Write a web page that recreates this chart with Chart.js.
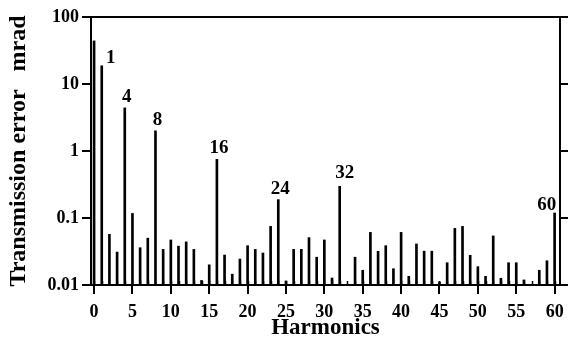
<!DOCTYPE html>
<html>
<head>
<meta charset="utf-8">
<script src="https://cdn.jsdelivr.net/npm/chart.js@4/dist/chart.umd.min.js"></script>
<style>
  html, body { margin: 0; padding: 0; background: #fff; }
  #wrap { width: 568px; height: 342px; }
</style>
</head>
<body>
<div id="wrap"><canvas id="harm_chart" width="568" height="342"></canvas></div>
<script>
// harmonic order on the x axis
const harmonics = [0, 1, 2, 3, 4, 5, 6, 7, 8, 9, 10, 11, 12, 13, 14, 15, 16, 17, 18, 19, 20,
  21, 22, 23, 24, 25, 26, 27, 28, 29, 30, 31, 32, 33, 34, 35, 36, 37, 38, 39, 40,
  41, 42, 43, 44, 45, 46, 47, 48, 49, 50, 51, 52, 53, 54, 55, 56, 57, 58, 59, 60];

// transmission error amplitude (mrad), null = no line
const errorValues = [44, 18.7, 0.057, 0.031, 4.4, 0.117, 0.036, 0.05, 2.0, 0.034, 0.047,
  0.038, 0.044, 0.034, 0.0117, 0.02, 0.75, 0.028, 0.0145, 0.0244, 0.0386,
  0.034, 0.03, 0.075, 0.188, 0.0115, 0.034, 0.034, 0.051, 0.026, 0.047,
  0.0127, 0.297, null, 0.026, 0.0166, 0.061, 0.0318, 0.0386, 0.0175, 0.061,
  0.0135, 0.041, 0.032, 0.032, 0.0111, 0.0215, 0.07, 0.075, 0.0277, 0.0188,
  0.0135, 0.054, 0.0126, 0.0215, 0.0215, 0.0119, null, 0.0166, 0.023, 0.119];

// harmonics that get a number printed above them
const labelledHarmonics = [1, 4, 8, 16, 24, 32, 60];

const yTicks = [0.01, 0.1, 1, 10, 100];
const xTicks = [0, 5, 10, 15, 20, 25, 30, 35, 40, 45, 50, 55, 60];

const serif = "'Liberation Serif', 'Times New Roman', serif";
const yMin = 0.01;

const points = harmonics
  .map((h, i) => ({ x: h, y: errorValues[i] === null ? null : [yMin, errorValues[i]] }))
  .filter(p => p.y !== null);

// small inward ticks, top frame line and the harmonic numbers
const extrasPlugin = {
  id: "extras",
  afterDraw(chart) {
    const { ctx, chartArea } = chart;
    const xs = chart.scales.x;
    ctx.save();
    ctx.strokeStyle = "#000";
    ctx.lineWidth = 2;
    ctx.beginPath();
    ctx.moveTo(chartArea.left - 1, chartArea.top);
    ctx.lineTo(chart.width, chartArea.top);
    ctx.stroke();

    ctx.lineWidth = 1.5;
    harmonics.forEach(h => {
      const px = Math.round(xs.getPixelForValue(h)) + 0.5;
      ctx.beginPath();
      ctx.moveTo(px, chartArea.bottom);
      ctx.lineTo(px, chartArea.bottom - 4);
      ctx.stroke();
    });

    const shift = { 1: [9, -8], 32: [5, -13], 60: [-8, -8] };
    const meta = chart.getDatasetMeta(0);
    ctx.fillStyle = "#000";
    ctx.font = "bold 19px " + serif;
    ctx.textAlign = "center";
    ctx.textBaseline = "middle";
    labelledHarmonics.forEach(h => {
      const idx = points.findIndex(p => p.x === h);
      const bar = meta.data[idx];
      const [dx, dy] = shift[h] || [2, -11];
      ctx.fillText(String(h), bar.x + dx, bar.y + dy);
    });
    ctx.restore();
  }
};

const ctx = document.getElementById("harm_chart").getContext("2d");

new Chart(ctx, {
  type: "bar",
  data: {
    datasets: [
      {
        data: points,
        backgroundColor: "#000",
        borderWidth: 0,
        barThickness: 2,
        yAxisID: "y",
      },
    ],
  },
  options: {
    responsive: false,
    animation: false,
    events: [],
    layout: { padding: { top: 17, right: 0, left: 0, bottom: 0 } },
    plugins: {
      legend: { display: false },
      tooltip: { enabled: false },
    },
    scales: {
      x: {
        type: "linear",
        offset: false,
        min: -0.4,
        max: 60.7,
        afterBuildTicks: s => { s.ticks = xTicks.map(v => ({ value: v })); },
        afterFit: s => { s.height = 57; s.paddingLeft = 0; s.paddingRight = 0; },
        grid: { display: true, offset: false, drawOnChartArea: false, drawTicks: true, tickLength: 9, color: "#000", lineWidth: 2 },
        border: { display: true, color: "#000", width: 2 },
        ticks: { color: "#000", font: { family: serif, size: 18, weight: "bold" }, padding: 8, maxRotation: 0, autoSkip: false },
        title: { display: true, text: "Harmonics", color: "#000", font: { family: serif, size: 23, weight: "bold" }, padding: { top: 0, bottom: 0 } },
      },
      y: {
        type: "logarithmic",
        min: 0.01,
        max: 100,
        afterBuildTicks: s => { s.ticks = yTicks.map(v => ({ value: v })); },
        afterFit: s => { s.width = 91; s.paddingTop = 0; s.paddingBottom = 0; },
        grid: { display: true, drawOnChartArea: false, drawTicks: true, tickLength: 9, color: "#000", lineWidth: 2 },
        border: { display: true, color: "#000", width: 2 },
        ticks: { color: "#000", font: { family: serif, size: 18, weight: "bold" }, padding: 3, callback: v => String(v) },
        title: { display: true, text: "Transmission error   mrad", color: "#000", font: { family: serif, size: 24, weight: "bold" }, padding: { top: 4, bottom: 0 } },
      },
      y2: {
        type: "logarithmic",
        position: "right",
        min: 0.01,
        max: 100,
        afterBuildTicks: s => { s.ticks = yTicks.map(v => ({ value: v })); },
        afterFit: s => { s.width = 8; s.paddingTop = 0; s.paddingBottom = 0; },
        grid: { display: true, drawOnChartArea: false, drawTicks: true, tickLength: 8, color: "#000", lineWidth: 2 },
        border: { display: true, color: "#000", width: 2 },
        ticks: { display: true, callback: () => "", padding: 0 },
      },
    },
  },
  plugins: [extrasPlugin],
});
</script>
</body>
</html>
